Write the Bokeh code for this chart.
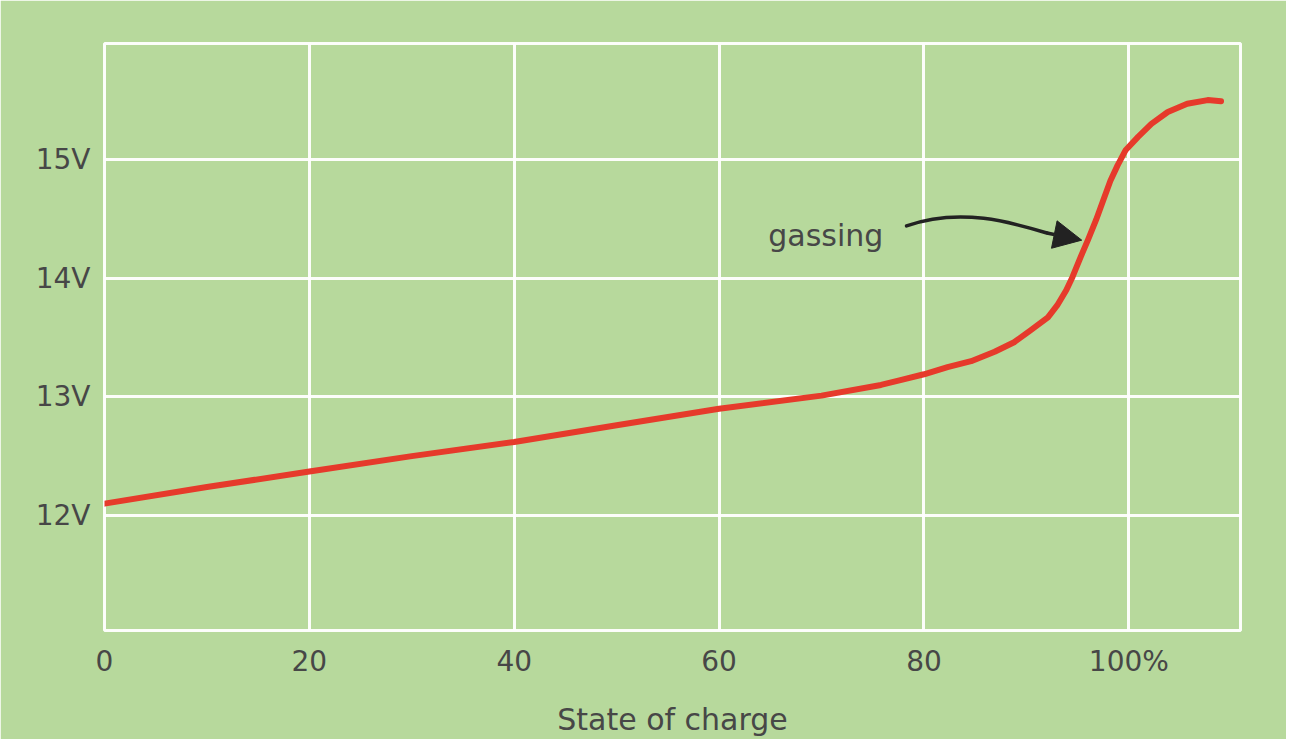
from bokeh.plotting import figure
from bokeh.models import Range1d, FixedTicker, Arrow, NormalHead, ColumnDataSource
from bokeh.core.properties import value
from bokeh.embed import file_html
from bokeh.resources import INLINE

# Data: state of charge (%) vs terminal voltage (V)
charge = [0, 10, 20, 30, 40, 50, 60, 70, 75.8, 77.7, 80.0, 82.3, 84.6, 86.9,
          88.8, 90.4, 92.1, 93.0, 93.9, 94.5, 95.3, 96.0, 96.8, 97.6, 98.2,
          98.9, 99.7, 100.9, 102.2, 103.8, 105.7, 107.7, 109.0]
voltage = [12.10, 12.24, 12.37, 12.50, 12.62, 12.76, 12.90, 13.01, 13.10, 13.14,
           13.19, 13.25, 13.30, 13.38, 13.46, 13.56, 13.67, 13.77, 13.90, 14.01,
           14.18, 14.32, 14.49, 14.68, 14.82, 14.95, 15.08, 15.19, 15.30, 15.40,
           15.47, 15.50, 15.49]

x_ticks = [0, 20, 40, 60, 80, 100]
x_tick_labels = ["0", "20", "40", "60", "80", "100%"]
y_ticks = [12, 13, 14, 15]
y_tick_labels = ["12V", "13V", "14V", "15V"]

annotation_text = "gassing"
annotation_pos = (64.8, 14.36)
arrow_tail = (78.3, 14.44)
arrow_ctrl1 = (83.5, 14.60)
arrow_ctrl2 = (88.6, 14.47)
arrow_tip = (95.4, 14.32)
arrow_head_start = (92.0, 14.38)

GREEN = "#b7d99c"
TEXT = "#474747"
FONT = "DejaVu Sans"

p = figure(width=1286, height=739, output_backend="svg", toolbar_location=None,
           x_range=Range1d(0, 110.9), y_range=Range1d(11.031, 15.977),
           min_border_left=104, min_border_right=46, min_border_top=43, min_border_bottom=109)

p.background_fill_color = GREEN
p.border_fill_color = GREEN
p.outline_line_color = "white"
p.outline_line_width = 3
p.outline_line_alpha = 0.95

for g in (p.xgrid, p.ygrid):
    g.grid_line_color = "white"
    g.grid_line_width = 3
    g.grid_line_alpha = 0.95

p.xaxis.ticker = FixedTicker(ticks=x_ticks)
p.yaxis.ticker = FixedTicker(ticks=y_ticks)
p.xaxis.major_label_overrides = {t: l for t, l in zip(x_ticks, x_tick_labels)}
p.yaxis.major_label_overrides = {t: l for t, l in zip(y_ticks, y_tick_labels)}

for ax in (p.xaxis, p.yaxis):
    ax.axis_line_color = None
    ax.major_tick_line_color = None
    ax.minor_tick_line_color = None
    ax.major_tick_out = 0
    ax.major_tick_in = 0
    ax.major_label_text_font = FONT
    ax.major_label_text_font_size = "28px"
    ax.major_label_text_color = TEXT

p.yaxis.major_label_standoff = 14
p.xaxis.major_label_standoff = 14
p.xaxis.axis_label = "State of charge"
p.xaxis.axis_label_text_font = FONT
p.xaxis.axis_label_text_font_size = "30px"
p.xaxis.axis_label_text_font_style = "normal"
p.xaxis.axis_label_text_color = TEXT
p.xaxis.axis_label_standoff = 21

src = ColumnDataSource(dict(x=charge, y=voltage))
p.line("x", "y", source=src, line_color="#e63a2b", line_width=6, line_cap="round", line_join="round")

p.text(x=[annotation_pos[0]], y=[annotation_pos[1]], text=[annotation_text],
       text_font=value(FONT), text_font_size="30px", text_color=TEXT,
       text_baseline="alphabetic", text_align="left")

p.bezier(x0=[arrow_tail[0]], y0=[arrow_tail[1]], x1=[arrow_head_start[0]], y1=[arrow_head_start[1]],
         cx0=[arrow_ctrl1[0]], cy0=[arrow_ctrl1[1]], cx1=[arrow_ctrl2[0]], cy1=[arrow_ctrl2[1]],
         line_color="#222222", line_width=3.5, line_cap="round")

p.add_layout(Arrow(end=NormalHead(size=28, fill_color="#222222", line_color="#222222"),
                   x_start=arrow_head_start[0], y_start=arrow_head_start[1],
                   x_end=arrow_tip[0], y_end=arrow_tip[1],
                   line_color="#222222", line_width=3.5))

open("out.html", "w").write(file_html(p, INLINE))
